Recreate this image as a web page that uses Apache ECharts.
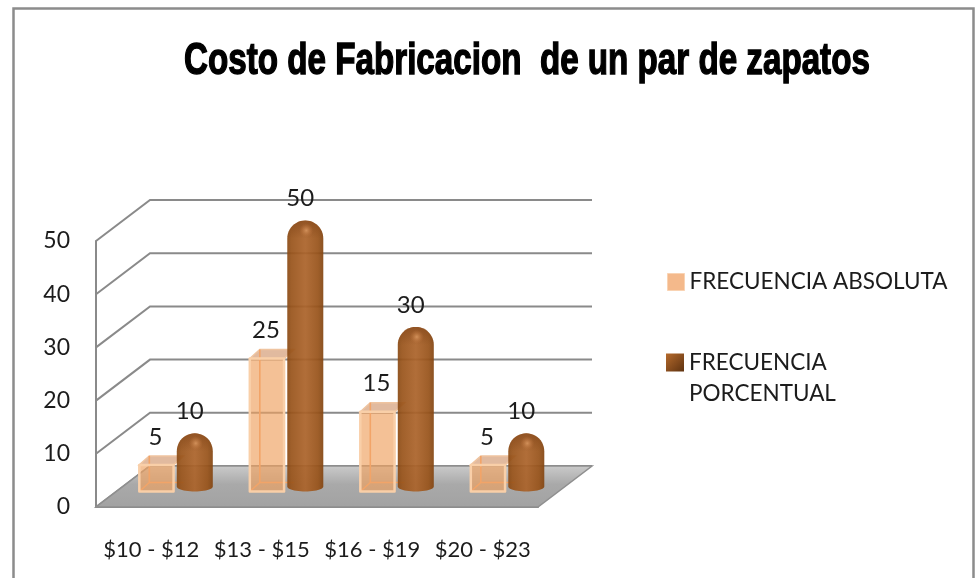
<!DOCTYPE html>
<html><head><meta charset="utf-8">
<style>html,body{margin:0;padding:0;background:#fff}#c{width:975px;height:578px}</style>
<script src="https://cdn.jsdelivr.net/npm/echarts@6/dist/echarts.min.js"></script>
</head><body><div id="c"></div>
<script>
const titleText = 'Costo de Fabricacion  de un par de zapatos';
const categories = ['$10 - $12', '$13 - $15', '$16 - $19', '$20 - $23'];
const absoluta = [5, 25, 15, 5];
const porcentual = [10, 50, 30, 10];
const yTicks = [0, 10, 20, 30, 40, 50];
const nameA = 'FRECUENCIA ABSOLUTA';
const nameB = 'FRECUENCIA PORCENTUAL';

const FONT = 'Lato';
const FS = 22;
const FS_VAL = 24;
const TXT = '#1c1c1c';
const GRID = '#8a8a8a';
// depth of the 3D box, in px: back wall and bar plane
const WALL = [54, -41];
const BAR = [0, -15.5];
const chart = echarts.init(document.getElementById('c'));

function wall(params, api) {
  const cs = params.coordSys, v = api.value(0), y = api.coord([0, v])[1];
  const x = cs.x;
  return { type: 'polyline', silent: true,
    shape: { points: [[x, y], [x + WALL[0], y + WALL[1]], [x + cs.width + WALL[0], y + WALL[1]]] },
    style: { stroke: GRID, lineWidth: 2, fill: null } };
}
function floor(params, api) {
  const cs = params.coordSys, y = api.coord([0, 0])[1], x = cs.x, r = x + cs.width;
  return { type: 'polygon', silent: true,
    shape: { points: [[x, y], [r, y], [r + WALL[0], y + WALL[1]], [x + WALL[0], y + WALL[1]]] },
    style: { stroke: '#8f8f8f', lineWidth: 1.5,
      fill: new echarts.graphic.LinearGradient(0, 0, 0, 1, [
        { offset: 0, color: '#cbcbcb' }, { offset: 0.45, color: '#a9a9a9' }, { offset: 1, color: '#a2a2a2' }]) } };
}
function box(params, api) {
  const c = api.value(0), v = api.value(1);
  const band = api.size([1, 0])[0];
  const w = band * 0.31, d = 10, dy = -9;
  const p = api.coord([c, v]), b = api.coord([c, 0]);
  const x0 = p[0] - band * 0.108, x1 = x0 + w;
  const yt = p[1] + BAR[1], yb = b[1] + BAR[1];
  const edge = { stroke: '#f9cfa8', lineWidth: 2.5, lineJoin: 'round' };
  const inner = { stroke: '#f2a468', lineWidth: 1.6, fill: null };
  return { type: 'group', children: [
    { type: 'polygon', shape: { points: [[x0, yt], [x0 + d, yt + dy], [x1 + d, yt + dy], [x1, yt]] }, style: { fill: 'rgba(205,140,95,0.6)', stroke: '#efc4a0', lineWidth: 1.5 } },
    { type: 'rect', shape: { x: x0, y: yt, width: w, height: yb - yt }, style: { fill: 'rgba(239,161,95,0.66)' } },
    { type: 'polyline', shape: { points: [[x0, yb], [x0 + d, yb + dy], [x1 + d, yb + dy]] }, style: inner },
    { type: 'polyline', shape: { points: [[x0 + d, yt + dy], [x0 + d, yb + dy]] }, style: inner },
    { type: 'rect', shape: { x: x0, y: yt, width: w, height: yb - yt }, style: Object.assign({ fill: null }, edge) },
    { type: 'text', style: { x: x0 + w / 2 - 1, y: yt - 28, text: String(v), align: 'center', verticalAlign: 'middle', font: FS_VAL + 'px ' + FONT, fill: TXT } }
  ] };
}
function cylinder(params, api) {
  const c = api.value(0), v = api.value(1);
  const band = api.size([1, 0])[0];
  const w = band * 0.326, r = w / 2;
  const p = api.coord([c, v]), b = api.coord([c, 0]);
  const x0 = p[0] + band * 0.231, cx = x0 + r;
  const yb = b[1] + BAR[1] - 5;
  const yTop = p[1] + BAR[1] - 5;        // top of dome
  const pts = [];
  for (let i = 0; i <= 24; i++) {
    const a = Math.PI - Math.PI * i / 24;
    pts.push([cx + r * Math.cos(a), yTop + r - r * Math.sin(a)]);
  }
  for (let i = 0; i <= 24; i++) {
    const a = Math.PI * i / 24;
    pts.push([cx + r * Math.cos(a), yb + 5 * Math.sin(a)]);
  }
  return { type: 'group', children: [
    { type: 'polygon', shape: { points: pts }, style: {
        opacity: 0.93,
        fill: new echarts.graphic.LinearGradient(0, 0, 1, 0, [
          { offset: 0, color: '#8a4a14' }, { offset: 0.12, color: '#99541b' }, { offset: 0.5, color: '#ab632a' },
          { offset: 0.85, color: '#98531a' }, { offset: 1, color: '#834511' }]) } },
    { type: 'polygon', shape: { points: pts.slice(0, 25) }, style: {
        fill: new echarts.graphic.LinearGradient(0, 0, 0, 1, [
          { offset: 0, color: 'rgba(125,66,22,0.6)' }, { offset: 1, color: 'rgba(125,66,22,0)' }]) } },
    { type: 'circle', shape: { cx: cx + 1, cy: yTop + 10, r: 7 }, style: {
        fill: new echarts.graphic.RadialGradient(0.5, 0.5, 0.5, [
          { offset: 0, color: 'rgba(215,150,95,0.9)' }, { offset: 1, color: 'rgba(190,115,60,0)' }]) } },
    { type: 'text', style: { x: cx - 5, y: p[1] + BAR[1] - 27, text: String(v), align: 'center', verticalAlign: 'middle', font: FS_VAL + 'px ' + FONT, fill: TXT } }
  ] };
}

chart.setOption({
  animation: false,
  backgroundColor: '#ffffff',
  grid: { left: 96, right: 437, top: 241, bottom: 71 },
  xAxis: { type: 'category', data: categories, boundaryGap: true,
    axisLine: { show: true, lineStyle: { color: GRID, width: 2 } }, axisTick: { show: false }, splitLine: { show: false },
    axisLabel: { interval: 0, margin: 32, fontFamily: FONT, fontSize: FS, color: TXT } },
  yAxis: { type: 'value', min: 0, max: 50, interval: 10,
    axisLine: { show: true, lineStyle: { color: GRID, width: 2 } }, axisTick: { show: false }, splitLine: { show: false },
    axisLabel: { margin: 26, fontFamily: FONT, fontSize: 23, color: TXT, padding: [6, 0, 0, 0] } },
  legend: [
    { data: [{ name: nameA, icon: 'rect', itemStyle: { color: '#f4b98b', borderColor: '#f9d3b3', borderWidth: 1 } }],
      left: 667, top: 269, padding: 0, itemWidth: 17, itemHeight: 17, selectedMode: false,
      textStyle: { fontFamily: FONT, fontSize: 22.5, color: TXT, lineHeight: 26 } },
    { data: [{ name: nameB, icon: 'rect', itemStyle: { color: {
          type: 'linear', x: 0, y: 0, x2: 1, y2: 1, colorStops: [{ offset: 0, color: '#b56a2c' }, { offset: 1, color: '#5e3210' }] } } }],
      left: 666, top: 316, padding: 0, itemWidth: 18, itemHeight: 18, selectedMode: false,
      formatter: n => '\n' + n.replace(' ', '\n'),
      textStyle: { fontFamily: FONT, fontSize: 22.5, color: TXT, lineHeight: 31 } }
  ],
  graphic: [
    { type: 'polyline', silent: true, z: -1,
      shape: { points: [[13.5, 600], [13.5, 8.5], [973.5, 8.5], [973.5, 600]] },
      style: { stroke: '#8c8c8c', lineWidth: 2.5, fill: null } },
    { type: 'text', silent: true, x: 527, y: 62, scaleX: 0.754, scaleY: 1,
      style: { text: titleText, align: 'center', verticalAlign: 'middle', fill: '#000',
        font: 'bold 44px "Liberation Sans"', stroke: '#000', lineWidth: 1.4 } }
  ],
  series: [
    { type: 'custom', name: 'muro', renderItem: wall, data: yTicks.map(v => [v]), encode: { y: 0 }, z: 1, silent: true },
    { type: 'custom', name: 'piso', renderItem: floor, data: [[0]], encode: { y: 0 }, z: 2, silent: true },
    { type: 'custom', name: nameA, renderItem: box, data: absoluta.map((v, i) => [i, v]), encode: { x: 0, y: 1 }, z: 3, itemStyle: { color: '#f4b98b' } },
    { type: 'custom', name: nameB, renderItem: cylinder, data: porcentual.map((v, i) => [i, v]), encode: { x: 0, y: 1 }, z: 4, itemStyle: { color: '#a55f24' } }
  ]
});
</script></body></html>
